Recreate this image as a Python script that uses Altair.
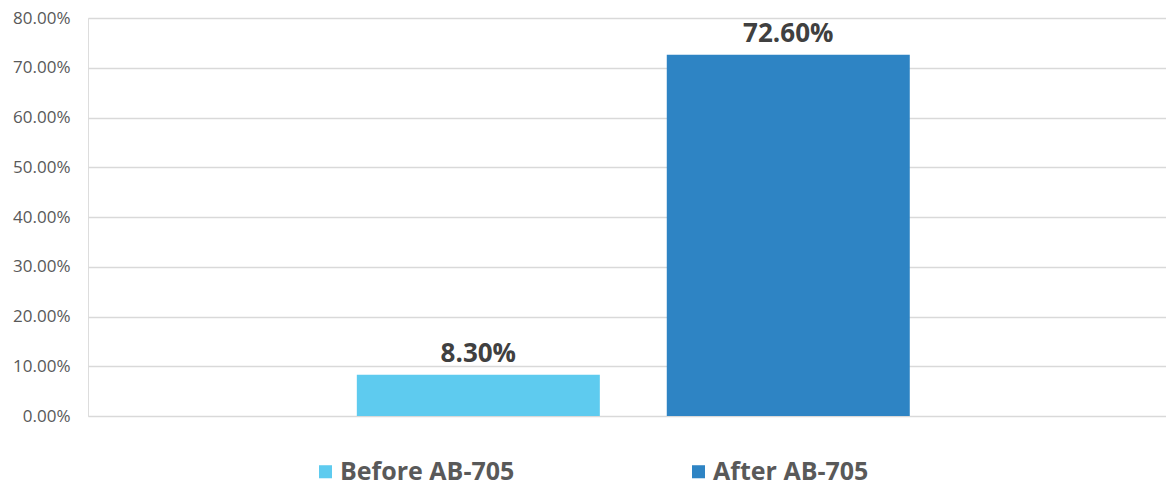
import altair as alt
import pandas as pd

series = ["Before AB-705", "After AB-705"]
values = [0.083, 0.726]
colors = ["#5ECBEF", "#2E84C4"]
y_ticks = [0.0, 0.1, 0.2, 0.3, 0.4, 0.5, 0.6, 0.7, 0.8]

df = pd.DataFrame({"series": series, "value": values})

FONT = "Open Sans"

x_enc = alt.X(
    "series:N",
    sort=series,
    axis=None,
    scale=alt.Scale(paddingInner=0.216, paddingOuter=0.847, align=0.512),
)
y_enc = alt.Y(
    "value:Q",
    scale=alt.Scale(domain=[0, 0.8], nice=False),
    axis=alt.Axis(
        values=y_ticks,
        format=".2%",
        title=None,
        domain=False,
        ticks=False,
        labelPadding=18,
        labelFont=FONT,
        labelFontSize=17,
        labelColor="#595959",
        gridColor="#D9D9D9",
        gridWidth=1.5,
    ),
)

bars = alt.Chart(df).mark_bar().encode(
    x=x_enc,
    y=y_enc,
    color=alt.Color(
        "series:N",
        sort=series,
        scale=alt.Scale(domain=series, range=colors),
        legend=alt.Legend(
            title=None,
            orient="none",
            direction="horizontal",
            legendX=225,
            legendY=441,
            symbolType="square",
            symbolSize=170,
            symbolStrokeWidth=0,
            labelFont=FONT,
            labelFontSize=25,
            labelFontWeight="bold",
            labelColor="#595959",
            labelOffset=2,
            columnPadding=171,
            labelLimit=400,
        ),
    ),
)

labels = alt.Chart(df).mark_text(
    font=FONT,
    fontSize=26,
    fontWeight="bold",
    color="#404040",
    baseline="alphabetic",
    dy=-13,
).encode(
    x=alt.X("series:N", sort=series),
    y="value:Q",
    text=alt.Text("value:Q", format=".2%"),
)

chart = (
    alt.layer(bars, labels)
    .properties(
        width=1078,
        height=398,
        autosize=alt.AutoSizeParams(type="none"),
        padding={"left": 80, "top": 10, "right": 0, "bottom": 69},
    )
    .configure_view(stroke=None)
    .configure(background="white")
)

chart.save("out.html", embed_options={"renderer": "svg", "actions": False})
